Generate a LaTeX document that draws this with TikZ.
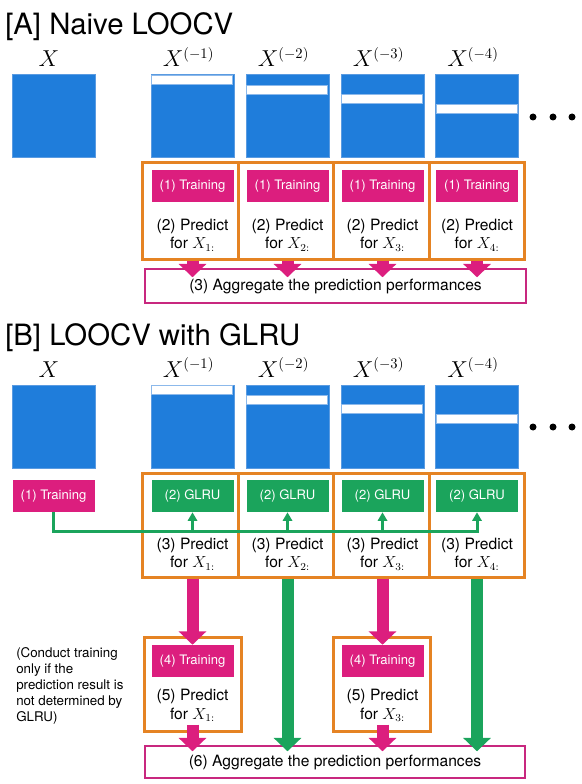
\documentclass[tikz,border=0pt]{standalone}
\usepackage{fontspec}
\setmainfont{TeX Gyre Heros}
\usetikzlibrary{arrows.meta,calc}
\definecolor{matblue}{RGB}{31,125,219}
\definecolor{matedge}{RGB}{90,155,225}
\definecolor{stripeedge}{RGB}{140,185,235}
\definecolor{orangeC}{RGB}{229,131,35}
\definecolor{pinkC}{RGB}{220,30,126}
\definecolor{greenC}{RGB}{27,164,92}
\definecolor{aggedge}{RGB}{200,40,127}
\begin{document}
\begin{tikzpicture}[x=0.75pt,y=-0.75pt,
  title/.style={anchor=base west,inner sep=0pt,font=\fontsize{22pt}{26pt}\selectfont},
  collabel/.style={anchor=base,inner sep=0pt,font=\fontsize{16pt}{18pt}\selectfont},
  mat/.style={draw=matedge,line width=0.75pt,fill=matblue,minimum width=62.25pt,minimum height=62.25pt,inner sep=0pt},
  stripe/.style={draw=stripeedge,line width=0.6pt,fill=white},
  cell/.style={draw=orangeC,line width=2.25pt,fill=white,minimum width=71.6pt,inner sep=0pt},
  pinkbox/.style={fill=pinkC,text=white,minimum width=61.5pt,minimum height=24pt,inner sep=0pt,font=\fontsize{9.8pt}{11pt}\selectfont},
  greenbox/.style={fill=greenC,text=white,minimum width=61.5pt,minimum height=24pt,inner sep=0pt,font=\fontsize{9.8pt}{11pt}\selectfont},
  predtext/.style={align=center,inner sep=0pt,font=\fontsize{11.7pt}{13.8pt}\selectfont},
  aggbox/.style={draw=aggedge,line width=1.1pt,fill=white,inner sep=0pt,font=\fontsize{11.7pt}{13.8pt}\selectfont},
  dot/.style={circle,fill=black,minimum size=5.25pt,inner sep=0pt},
  pinkarrow/.style={draw=pinkC,line width=9pt,-{Triangle[width=20.25pt,length=10pt]}},
  greenarrow/.style={draw=greenC,line width=9pt,-{Triangle[width=20.25pt,length=10pt]}},
  gline/.style={draw=greenC,line width=2.25pt},
  gtip/.style={-{Triangle[width=7pt,length=6.5pt]}},
  note/.style={align=left,inner sep=0pt,font=\fontsize{10pt}{12pt}\selectfont}]
\useasboundingbox (0,0) rectangle (581,784);

% ---------- Panel A ----------
\node[title] (titleA) at (5,35) {[A] Naive LOOCV};
\node[collabel] (labA0) at (49,67) {$X$};
\node[mat] (matA0) at (53.5,116.5) {};
\foreach \i/\cx/\off in {1/192.5/1,2/287.5/11,3/382.5/20,4/477/30}{
  \node[collabel] (labA\i) at (\cx-4,67) {$X^{(-\i)}$};
  \node[mat] (matA\i) at (\cx,116.5) {};
  \draw[stripe] ($(matA\i.north west)+(1,\off)$) rectangle ++(81,9);
}
\node[dot] (dotA1) at (533,117) {};
\node[dot] (dotA2) at (553,117) {};
\node[dot] (dotA3) at (572,117) {};

\foreach \i/\cx/\mx in {1/190.5/192.5,2/286/287.5,3/381.5/382.5,4/477/477}{
  \node[cell,minimum height=72pt] (cellA\i) at (\cx,211) {};
}
\foreach \i/\mx in {1/192.5,2/287.5,3/382.5,4/477}{
  \node[pinkbox] (trainA\i) at (\mx,186) {(1) Training};
  \node[predtext] (predA\i) at (\mx,235) {(2) Predict\\for $X_{\i:}$};
}
\node[aggbox,minimum width=285.75pt,minimum height=25.5pt] (aggA) at (335.5,286) {(3) Aggregate the prediction performances};
\foreach \i in {1,2,3,4}{
  \draw[pinkarrow] (trainA\i |- cellA\i.south) -- ($(trainA\i |- aggA.north)+(0,9)$);
}

% ---------- Panel B ----------
\node[title] (titleB) at (5,345) {[B] LOOCV with GLRU};
\node[collabel] (labB0) at (49,377) {$X$};
\node[mat] (matB0) at (53.5,426.5) {};
\foreach \i/\cx/\off in {1/192.5/1,2/287.5/11,3/382.5/20,4/477/30}{
  \node[collabel] (labB\i) at (\cx-4,377) {$X^{(-\i)}$};
  \node[mat] (matB\i) at (\cx,426.5) {};
  \draw[stripe] ($(matB\i.north west)+(1,\off)$) rectangle ++(81,9);
}
\node[dot] (dotB1) at (533,427) {};
\node[dot] (dotB2) at (553,427) {};
\node[dot] (dotB3) at (572,427) {};

\node[pinkbox] (trainB0) at (53.5,496) {(1) Training};
\foreach \i/\cx in {1/190.5,2/286,3/381.5,4/477}{
  \node[cell,minimum height=78pt] (cellB\i) at (\cx,525) {};
}
\foreach \i/\mx in {1/192.5,2/287.5,3/382.5,4/477}{
  \node[greenbox] (glru\i) at (\mx,496) {(2) GLRU};
  \node[predtext] (predB\i) at (\mx,554) {(3) Predict\\for $X_{\i:}$};
}
\coordinate (busY) at (0,531);
\draw[gline,gtip] (trainB0.south) |- (glru4.south |- busY) -- (glru4.south);
\foreach \i in {1,2,3}{
  \draw[gline,gtip] (glru\i.south |- busY) -- (glru\i.south);
}

% lower cells
\node[cell,minimum width=72.75pt,minimum height=70.5pt] (cellC1) at (192.5,684) {};
\node[cell,minimum width=72.75pt,minimum height=70.5pt] (cellC3) at (382,684) {};
\node[pinkbox] (trainC1) at (192.5,661) {(4) Training};
\node[pinkbox] (trainC3) at (382.5,661) {(4) Training};
\node[predtext] (predC1) at (192.5,705.5) {(5) Predict\\for $X_{1:}$};
\node[predtext] (predC3) at (382.5,705.5) {(5) Predict\\for $X_{3:}$};

\node[aggbox,minimum width=285pt,minimum height=24pt] (aggB) at (335,762) {(6) Aggregate the prediction performances};

\draw[pinkarrow] (glru1 |- cellB1.south) -- (trainC1.north);
\draw[pinkarrow] (glru3 |- cellB3.south) -- (trainC3.north);
\draw[greenarrow] (glru2 |- cellB2.south) -- ($(glru2 |- aggB.north)+(0,6)$);
\draw[greenarrow] (glru4 |- cellB4.south) -- ($(glru4 |- aggB.north)+(0,6)$);
\draw[pinkarrow] ($(trainC1 |- cellC1.south)+(0,-8)$) -- ($(trainC1 |- aggB.north)+(0,6)$);
\draw[pinkarrow] ($(trainC3 |- cellC3.south)+(0,-8)$) -- ($(trainC3 |- aggB.north)+(0,6)$);

\node[note,anchor=north west] (note) at (16,647) {(Conduct training\\only if the\\prediction result is\\not determined by\\GLRU)};
\end{tikzpicture}
\end{document}
